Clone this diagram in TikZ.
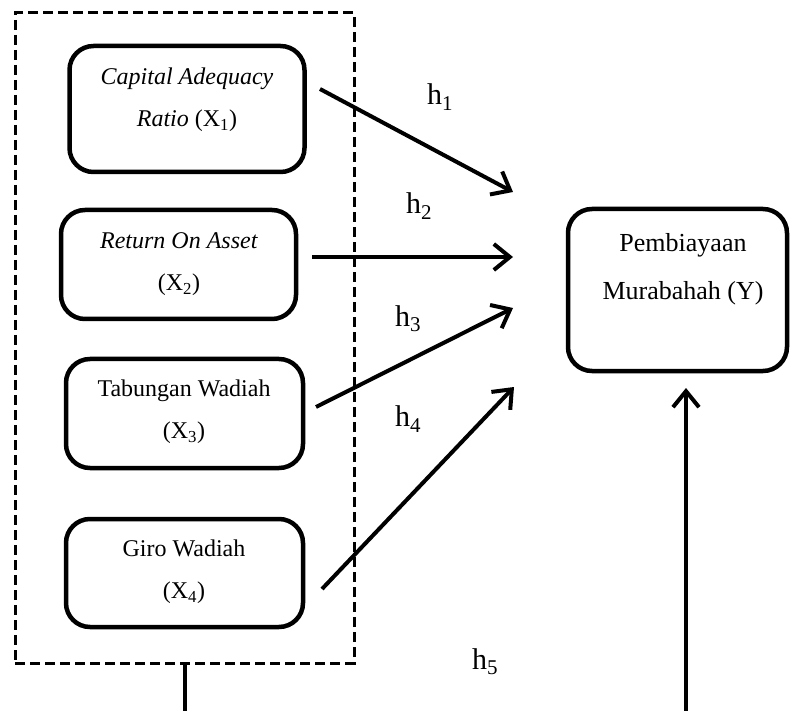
\documentclass[tikz,border=0pt]{standalone}
\usepackage{fontspec}
\setmainfont{Liberation Serif}
\usetikzlibrary{arrows.meta}
\begin{document}
\begin{tikzpicture}[x=1pt,y=-1pt,
  box/.style={draw, line width=4.5pt, rounded corners=24pt, inner sep=0pt},
  txt/.style={align=center, font=\fontsize{24}{42}\selectfont, inner sep=0pt},
  ytxt/.style={align=center, font=\fontsize{26}{48}\selectfont, inner sep=0pt},
  hlab/.style={font=\fontsize{30}{36}\selectfont, inner sep=0pt},
  conn/.style={line width=4pt},
  arr/.style={conn, -{Straight Barb[length=16pt,width=26pt]}},
  group/.style={draw, line width=3pt, dash pattern=on 10pt off 5pt, inner sep=0pt}
]
\useasboundingbox (0,0) rectangle (790,711);
\clip (0,0) rectangle (790,711);
% dashed group
\node[group, minimum width=339pt, minimum height=650pt] (group) at (184.5,338) {};
% boxes
\node[box, minimum width=235pt, minimum height=126pt] (b1) at (187,109) {};
\node[box, minimum width=235pt, minimum height=109pt] (b2) at (178.5,264.5) {};
\node[box, minimum width=237pt, minimum height=109pt] (b3) at (184.5,413.5) {};
\node[box, minimum width=237pt, minimum height=108pt] (b4) at (184.5,573) {};
\node[box, minimum width=219pt, minimum height=162pt] (ybox) at (677.5,290) {};
% texts
\node[txt] (t1) at (187,100) {\textit{Capital Adequacy}\\\textit{Ratio} (X\textsubscript{1})};
\node[txt] (t2) at (179,264) {\textit{Return On Asset}\\(X\textsubscript{2})};
\node[txt] (t3) at (184,412) {Tabungan Wadiah\\(X\textsubscript{3})};
\node[txt] (t4) at (184,572) {Giro Wadiah\\(X\textsubscript{4})};
\node[ytxt] (ty) at (683,269) {Pembiayaan\\Murabahah (Y)};
% arrow end points
\coordinate (s1) at (320,89);  \coordinate (e1) at (513,192);
\coordinate (s2) at (312,257); \coordinate (e2) at (513,257);
\coordinate (s3) at (316,407); \coordinate (e3) at (513,308);
\coordinate (s4) at (322,589); \coordinate (e4) at (514,387);
\coordinate (e5) at (686,388);
\draw[arr] (s1) -- (e1);
\draw[arr] (s2) -- (e2);
\draw[arr] (s3) -- (e3);
\draw[arr] (s4) -- (e4);
\draw[arr] (group.south) -- ++(0,100) -| (e5);
% labels
\node[hlab] (h1) at (440,97) {h\textsubscript{1}};
\node[hlab] (h2) at (419,206) {h\textsubscript{2}};
\node[hlab] (h3) at (408,319) {h\textsubscript{3}};
\node[hlab] (h4) at (408,419) {h\textsubscript{4}};
\node[hlab] (h5) at (485,662) {h\textsubscript{5}};
\end{tikzpicture}
\end{document}
